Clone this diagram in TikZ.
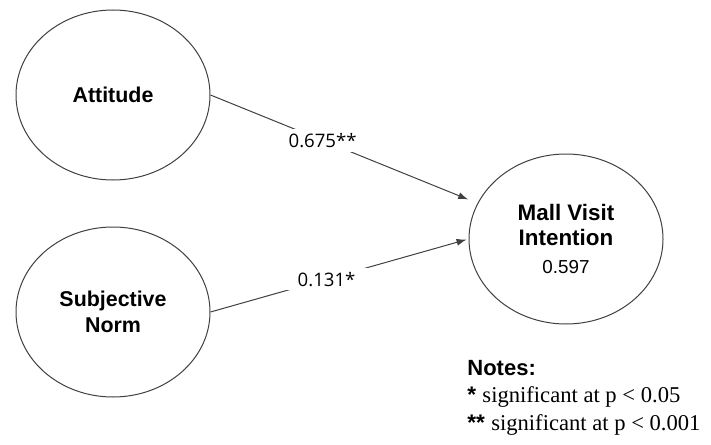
\documentclass[tikz,border=0pt]{standalone}
\usepackage{fontspec}
\setmainfont{Liberation Sans}
\newfontfamily\notefont{Liberation Serif}
\newfontfamily\numfont{Open Sans}
\usetikzlibrary{shapes.geometric, arrows.meta}

\begin{document}
\begin{tikzpicture}[x=0.5pt, y=-0.5pt
	, construct/.style={ draw=black!75
	                   , line width=0.5pt
	                   , ellipse
	                   , minimum width=97pt
	                   , minimum height=85pt
	                   , inner sep=0
	                   , align=center
	                   , font=\bfseries\fontsize{10.7}{13}\selectfont
	                   }
	, weight/.style={ fill=white
	                , inner xsep=9pt
	                , inner ysep=2pt
	                , font=\numfont\fontsize{9.3}{11}\selectfont
	                }
	, effect/.style={ draw=black!75
	                , line width=0.5pt
	                , -{Latex[length=5pt, width=3.5pt]}
	                }
	]
	\useasboundingbox (0, 0) rectangle (711, 444);
	
	% Constructs
	\node (att) [construct] at (113,  95) {Attitude};
	\node (sn)  [construct] at (113, 312) {Subjective\\Norm};
	\node (mvi) [construct, font=\bfseries\fontsize{11.2}{12.5}\selectfont]
	      at (566, 239)
	      {Mall Visit\\Intention\\[1.5pt]{\mdseries\fontsize{9.4}{11}\selectfont 0.597}};
	
	% Paths
	\foreach \src/\ang/\gap/\p/\lab in {att/158/5pt/0.42/0.675**, sn/180/1pt/0.45/0.131*}{
		\draw [effect, shorten >=\gap]
		      (\src.east) --
		      node [weight, pos=\p] (w\src) {\lab}
		      (mvi.\ang);
	}
	
	% Notes
	\node (notes)
	      [ anchor=north west
	      , inner sep=0
	      , align=left
	      , font=\fontsize{11.3}{13.7}\selectfont
	      ]
	      at (467, 360)
	      {{\bfseries\fontsize{11}{13.7}\selectfont Notes:}\\
	       {\bfseries *} {\notefont significant at p < 0.05}\\
	       {\bfseries **} {\notefont significant at p < 0.001}};
\end{tikzpicture}
\end{document}
